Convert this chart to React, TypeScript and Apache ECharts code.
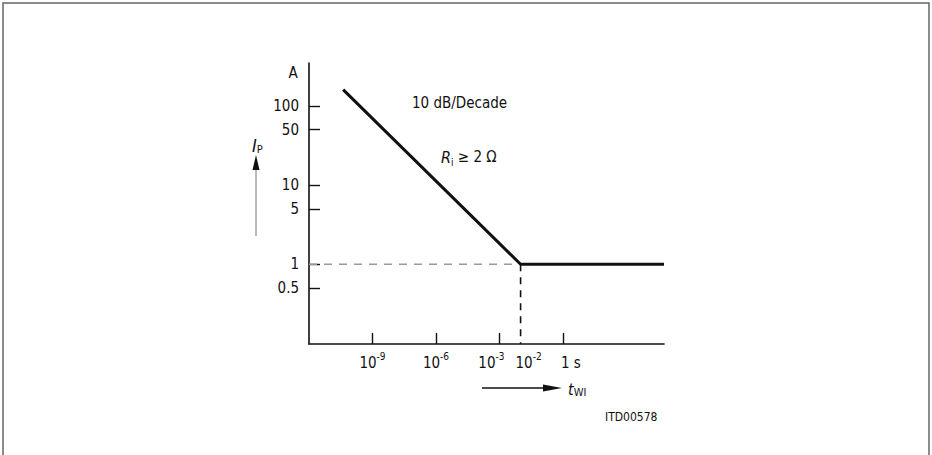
import React, { useEffect, useRef } from "react";
import * as echarts from "echarts";

// ---- data ----
const curveT: number[] = [4.1e-11, 1e-2, 6e4];
const curveI: number[] = [160, 1, 1];
const kneeT = 1e-2;
const kneeI = 1;
const xMin = 1e-12;
const xMax = 6e4;
const yMin = 0.0986;
const yMax = 347;
const xTickValues: number[] = [1e-9, 1e-6, 1e-3, 1];
const xLabelValues: number[] = [1e-9, 1e-6, 1e-3, 1e-2, 1];
const yTickValues: number[] = [0.5, 1, 5, 10, 50, 100];
const yLabelTexts: string[] = ["0.5", "1", "5", "10", "50", "100"];
const annotationSlope = "10 dB/Decade";
const docId = "ITD00578";

const FONT = "'DejaVu Sans Condensed', 'DejaVu Sans', sans-serif";
const INK = "#111";

export default function App() {
  const ref = useRef<HTMLDivElement>(null);
  useEffect(() => {
    if (!ref.current) return;
    const chart = echarts.init(ref.current, undefined, { renderer: "svg" });
    const curve = curveT.map((t, i) => [t, curveI[i]]);
    const option: any = {
      animation: false,
      backgroundColor: "#fff",
      grid: { left: 309, top: 63, width: 355, height: 281 },
      xAxis: {
        type: "log",
        min: xMin,
        max: xMax,
        axisLine: { show: true, lineStyle: { color: INK, width: 1.6 } },
        splitLine: { show: false },
        minorTick: { show: false },
        axisTick: {
          show: true,
          inside: true,
          length: 11,
          customValues: xTickValues,
          lineStyle: { color: INK, width: 1.4 },
        },
        axisLabel: {
          show: true,
          margin: 7,
          customValues: xLabelValues,
          color: INK,
          fontFamily: FONT,
          formatter: (v: number) => {
            const e = Math.round(Math.log10(v));
            if (e === 0) return "{one|1 s}";
            if (e === -3) return "{b|10}{supL|-3}";
            if (e === -2) return "{bR|10}{sup|-2}";
            return "{b|10}{sup|" + e + "}";
          },
          rich: {
            b: { fontSize: 15, lineHeight: 19, verticalAlign: "bottom", fontFamily: FONT, color: INK },
            bR: { fontSize: 15, lineHeight: 19, verticalAlign: "bottom", fontFamily: FONT, color: INK, padding: [0, 0, 0, 16] },
            sup: { fontSize: 10, lineHeight: 11, verticalAlign: "top", fontFamily: FONT, color: INK },
            supL: { fontSize: 10, lineHeight: 11, verticalAlign: "top", fontFamily: FONT, color: INK, padding: [0, 16, 0, 0] },
            one: { fontSize: 15, lineHeight: 19, verticalAlign: "bottom", fontFamily: FONT, color: INK, padding: [0, 0, 0, 16] },
          },
        },
      },
      yAxis: {
        type: "log",
        min: yMin,
        max: yMax,
        axisLine: { show: true, lineStyle: { color: INK, width: 1.6 } },
        splitLine: { show: false },
        minorTick: { show: false },
        axisTick: {
          show: true,
          inside: true,
          length: 11,
          customValues: yTickValues,
          lineStyle: { color: INK, width: 1.4 },
        },
        axisLabel: {
          show: true,
          margin: 10,
          customValues: yTickValues,
          color: INK,
          fontSize: 15,
          fontFamily: FONT,
          formatter: (v: number) => {
            const idx = yTickValues.findIndex((t) => Math.abs(t - v) / t < 1e-6);
            return idx >= 0 ? yLabelTexts[idx] : "";
          },
        },
      },
      series: [
        {
          type: "line",
          data: [[xMin, kneeI], [kneeT, kneeI]],
          symbol: "none",
          silent: true,
          lineStyle: { color: "#9a9a9a", width: 1.6, type: [8, 7] },
          z: 1,
        },
        {
          type: "line",
          data: [[kneeT, kneeI], [kneeT, yMin]],
          symbol: "none",
          silent: true,
          lineStyle: { color: INK, width: 1.6, type: [7, 6] },
          z: 1,
        },
        {
          type: "line",
          data: curve,
          symbol: "none",
          silent: true,
          lineStyle: { color: INK, width: 3 },
          z: 3,
        },
      ],
      graphic: [
        {
          type: "rect",
          shape: { x: 3, y: 3, width: 926, height: 480 },
          style: { fill: "none", stroke: "#666", lineWidth: 1.5 },
          silent: true,
        },
        {
          type: "text",
          x: 293,
          y: 73,
          style: { text: "A", fontSize: 15, fontFamily: FONT, fill: INK, align: "center", verticalAlign: "middle" },
        },
        {
          type: "text",
          x: 412,
          y: 103,
          style: { text: annotationSlope, fontSize: 15, fontFamily: FONT, fill: INK, align: "left", verticalAlign: "middle" },
        },
        {
          type: "text",
          x: 441,
          y: 157,
          style: {
            text: "{r|R}{s|i}{n| ≥ 2 Ω}",
            align: "left",
            verticalAlign: "middle",
            rich: {
              r: { fontSize: 16, fontStyle: "italic", fontFamily: FONT, fill: INK, lineHeight: 20, verticalAlign: "middle" },
              s: { fontSize: 10, fontFamily: FONT, fill: INK, lineHeight: 10, verticalAlign: "bottom" },
              n: { fontSize: 15, fontFamily: FONT, fill: INK, lineHeight: 20, verticalAlign: "middle" },
            },
          },
        },
        {
          type: "text",
          x: 252,
          y: 145,
          style: {
            text: "{i|I}{s|P}",
            align: "left",
            verticalAlign: "middle",
            rich: {
              i: { fontSize: 18, fontStyle: "italic", fontFamily: FONT, fill: INK, lineHeight: 20, verticalAlign: "middle" },
              s: { fontSize: 11, fontFamily: FONT, fill: INK, lineHeight: 10, verticalAlign: "bottom" },
            },
          },
        },
        {
          type: "line",
          shape: { x1: 256, y1: 236, x2: 256, y2: 168 },
          style: { stroke: "#777", lineWidth: 1 },
        },
        {
          type: "polygon",
          shape: { points: [[252.5, 170], [259.5, 170], [256, 155]] },
          style: { fill: INK },
        },
        {
          type: "line",
          shape: { x1: 482, y1: 388, x2: 546, y2: 388 },
          style: { stroke: INK, lineWidth: 1.3 },
        },
        {
          type: "polygon",
          shape: { points: [[543, 384.5], [543, 391.5], [562, 388]] },
          style: { fill: INK },
        },
        {
          type: "text",
          x: 568,
          y: 389,
          style: {
            text: "{t|t}{s|WI}",
            align: "left",
            verticalAlign: "middle",
            rich: {
              t: { fontSize: 16, fontStyle: "italic", fontFamily: FONT, fill: INK, lineHeight: 18, verticalAlign: "middle" },
              s: { fontSize: 11, fontFamily: FONT, fill: INK, lineHeight: 10, verticalAlign: "bottom" },
            },
          },
        },
        {
          type: "text",
          x: 605,
          y: 417,
          style: { text: docId, fontSize: 12, fontFamily: FONT, fill: INK, align: "left", verticalAlign: "middle" },
        },
      ],
    };
    chart.setOption(option);
    return () => chart.dispose();
  }, []);
  return (
    <div
      ref={ref}
      style={{ position: "fixed", left: 0, top: 0, width: 932, height: 455, background: "#fff" }}
    />
  );
}
